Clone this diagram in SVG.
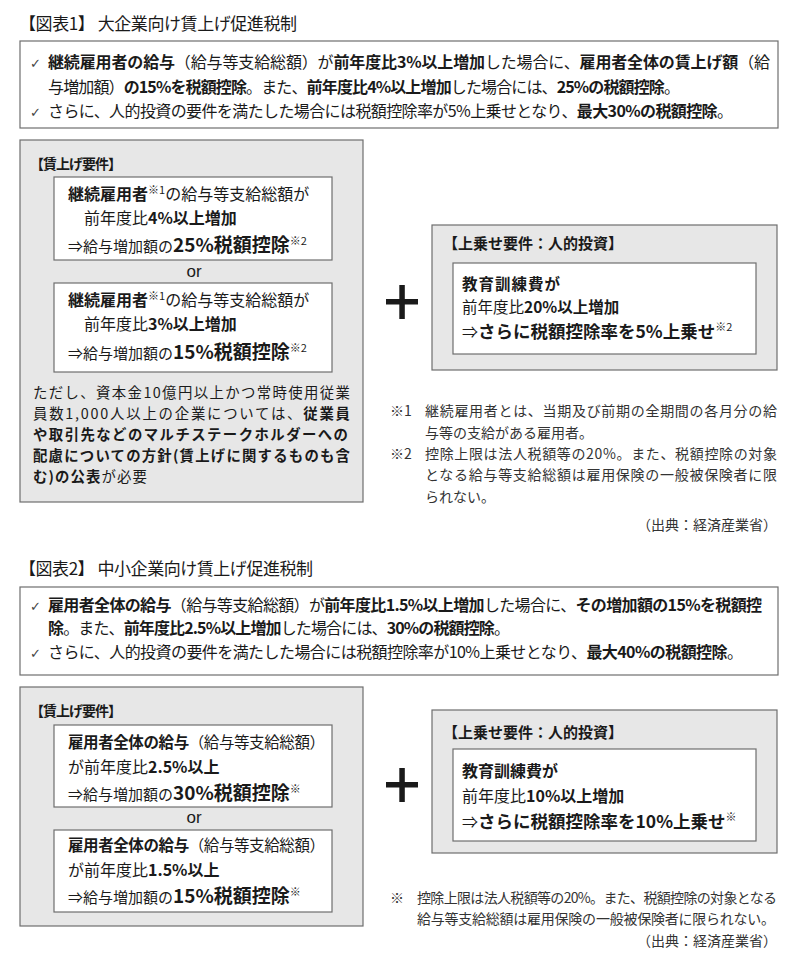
<svg xmlns="http://www.w3.org/2000/svg" width="800" height="976" viewBox="0 0 800 976">
<style>
.t{font-family:"Noto Sans CJK JP","Noto Sans",sans-serif;fill:#1a1a1a}
.b{font-weight:700}
.ck{font-family:"DejaVu Sans",sans-serif;fill:#444;font-size:13px}
.n{font-family:"Noto Sans CJK JP","Noto Sans",sans-serif;fill:#333;font-size:14px}
.box{fill:#fff;stroke:#6e6e6e;stroke-width:1.2}
.gray{fill:#e7e7e7;stroke:#6e6e6e;stroke-width:1.2}
.plus{fill:#1a1a1a}
.or{font-family:"Liberation Sans",sans-serif;font-size:17px;fill:#1a1a1a}
</style>
<rect width="800" height="976" fill="#fff"/>

<!-- ===== Figure 1 ===== -->
<g id="title1"><text class="t" x="19" y="30" font-size="17" textLength="278" lengthAdjust="spacing">【図表1】 大企業向け賃上げ促進税制</text></g>

<g id="summary1">
<rect class="box" x="20" y="41" width="758" height="87"/>
<text class="ck" x="30" y="68">✓</text>
<text class="t" x="48" y="68" font-size="16" textLength="722" lengthAdjust="spacing"><tspan class="b">継続雇用者の給与</tspan>（給与等支給総額）が<tspan class="b">前年度比3%以上増加</tspan>した場合に、<tspan class="b">雇用者全体の賃上げ額</tspan>（給</text>
<text class="t" x="48" y="93" font-size="16" textLength="632" lengthAdjust="spacing">与増加額）<tspan class="b">の15%を税額控除</tspan>。また、<tspan class="b">前年度比4%以上増加</tspan>した場合には、<tspan class="b">25%の税額控除</tspan>。</text>
<text class="ck" x="30" y="117">✓</text>
<text class="t" x="48" y="117" font-size="16" textLength="685" lengthAdjust="spacing">さらに、人的投資の要件を満たした場合には税額控除率が5%上乗せとなり、<tspan class="b">最大30%の税額控除</tspan>。</text>
</g>

<g id="wage-req1">
<rect class="gray" x="20" y="140" width="343" height="362"/>
<text class="t b" x="30" y="169" font-size="14" textLength="92" lengthAdjust="spacing">【賃上げ要件】</text>
</g>

<g id="req1-a">
<rect class="box" x="54" y="177" width="278" height="83"/>
<text class="t" x="68" y="200" font-size="16"><tspan class="b">継続雇用者</tspan><tspan font-size="11" dy="-6">※1</tspan><tspan dy="6">の給与等支給総額が</tspan></text>
<text class="t" x="84" y="224" font-size="16">前年度比<tspan class="b">4%以上増加</tspan></text>
<text class="t" x="68" y="252" font-size="15">⇒給与増加額の<tspan class="b" font-size="19">25%税額控除</tspan><tspan font-size="11" dy="-7">※2</tspan></text>
</g>

<g id="or1"><text class="or" x="194" y="277" text-anchor="middle">or</text></g>

<g id="req1-b">
<rect class="box" x="54" y="283" width="278" height="89"/>
<text class="t" x="68" y="306" font-size="16"><tspan class="b">継続雇用者</tspan><tspan font-size="11" dy="-6">※1</tspan><tspan dy="6">の給与等支給総額が</tspan></text>
<text class="t" x="84" y="330" font-size="16">前年度比<tspan class="b">3%以上増加</tspan></text>
<text class="t" x="68" y="359" font-size="15">⇒給与増加額の<tspan class="b" font-size="19">15%税額控除</tspan><tspan font-size="11" dy="-7">※2</tspan></text>
</g>

<g id="condition1">
<text class="t" x="33" y="398" font-size="14.4" textLength="317" lengthAdjust="spacing">ただし、資本金10億円以上かつ常時使用従業</text>
<text class="t" x="33" y="419" font-size="14.4" textLength="317" lengthAdjust="spacing">員数1,000人以上の企業については、<tspan class="b">従業員</tspan></text>
<text class="t b" x="33" y="440" font-size="14.4" textLength="315" lengthAdjust="spacing">や取引先などのマルチステークホルダーへの</text>
<text class="t b" x="33" y="461" font-size="14.4" textLength="317" lengthAdjust="spacing">配慮についての方針(賃上げに関するものも含</text>
<text class="t" x="33" y="482" font-size="14.4" textLength="114" lengthAdjust="spacing"><tspan class="b">む)の公表</tspan>が必要</text>
</g>

<g id="plus1">
<rect class="plus" x="386" y="299" width="32" height="5.5"/>
<rect class="plus" x="399.3" y="285" width="5.5" height="34"/>
</g>

<g id="bonus1">
<rect class="gray" x="432" y="225" width="345" height="145"/>
<text class="t b" x="443" y="249" font-size="15" textLength="180" lengthAdjust="spacing">【上乗せ要件：人的投資】</text>
<rect class="box" x="453" y="263" width="303" height="91"/>
<text class="t b" x="462" y="290" font-size="15.5" textLength="98" lengthAdjust="spacing">教育訓練費が</text>
<text class="t" x="462" y="313" font-size="15.5">前年度比<tspan class="b">20%以上増加</tspan></text>
<text class="t" x="462" y="338" font-size="16">⇒<tspan class="b" font-size="17.5">さらに税額控除率を5%上乗せ</tspan><tspan font-size="11" dy="-7">※2</tspan></text>
</g>

<g id="notes1">
<text class="n" x="390" y="416">※1</text>
<text class="n" x="425" y="416" textLength="352" lengthAdjust="spacing">継続雇用者とは、当期及び前期の全期間の各月分の給</text>
<text class="n" x="425" y="438">与等の支給がある雇用者。</text>
<text class="n" x="390" y="459">※2</text>
<text class="n" x="425" y="459" textLength="352" lengthAdjust="spacing">控除上限は法人税額等の20%。また、税額控除の対象</text>
<text class="n" x="425" y="480" textLength="352" lengthAdjust="spacing">となる給与等支給総額は雇用保険の一般被保険者に限</text>
<text class="n" x="425" y="502">られない。</text>
<text class="n" x="777" y="530" font-size="13" text-anchor="end">（出典：経済産業省）</text>
</g>

<!-- ===== Figure 2 ===== -->
<g id="title2"><text class="t" x="19" y="575" font-size="17" textLength="294" lengthAdjust="spacing">【図表2】 中小企業向け賃上げ促進税制</text></g>

<g id="summary2">
<rect class="box" x="20" y="587" width="758" height="88"/>
<text class="ck" x="30" y="611">✓</text>
<text class="t" x="48" y="611" font-size="16" textLength="714" lengthAdjust="spacing"><tspan class="b">雇用者全体の給与</tspan>（給与等支給総額）が<tspan class="b">前年度比1.5%以上増加</tspan>した場合に、<tspan class="b">その増加額の15%を税額控</tspan></text>
<text class="t" x="48" y="634" font-size="16" textLength="462" lengthAdjust="spacing"><tspan class="b">除</tspan>。また、<tspan class="b">前年度比2.5%以上増加</tspan>した場合には、<tspan class="b">30%の税額控除</tspan>。</text>
<text class="ck" x="30" y="658">✓</text>
<text class="t" x="48" y="658" font-size="16" textLength="695" lengthAdjust="spacing">さらに、人的投資の要件を満たした場合には税額控除率が10%上乗せとなり、<tspan class="b">最大40%の税額控除</tspan>。</text>
</g>

<g id="wage-req2">
<rect class="gray" x="20" y="687" width="343" height="239"/>
<text class="t b" x="30" y="716" font-size="14" textLength="92" lengthAdjust="spacing">【賃上げ要件】</text>
</g>

<g id="req2-a">
<rect class="box" x="54" y="725" width="278" height="82"/>
<text class="t" x="68" y="748" font-size="15.5" textLength="257" lengthAdjust="spacing"><tspan class="b">雇用者全体の給与</tspan>（給与等支給総額）</text>
<text class="t" x="68" y="773" font-size="16">が前年度比<tspan class="b">2.5%以上</tspan></text>
<text class="t" x="68" y="800" font-size="15">⇒給与増加額の<tspan class="b" font-size="19">30%税額控除</tspan><tspan font-size="11" dy="-7">※</tspan></text>
</g>

<g id="or2"><text class="or" x="194" y="823" text-anchor="middle">or</text></g>

<g id="req2-b">
<rect class="box" x="54" y="830" width="278" height="82"/>
<text class="t" x="68" y="851" font-size="15.5" textLength="257" lengthAdjust="spacing"><tspan class="b">雇用者全体の給与</tspan>（給与等支給総額）</text>
<text class="t" x="68" y="876" font-size="16">が前年度比<tspan class="b">1.5%以上</tspan></text>
<text class="t" x="68" y="903" font-size="15">⇒給与増加額の<tspan class="b" font-size="19">15%税額控除</tspan><tspan font-size="11" dy="-7">※</tspan></text>
</g>

<g id="plus2">
<rect class="plus" x="386" y="782" width="32" height="5.5"/>
<rect class="plus" x="399.3" y="768" width="5.5" height="34"/>
</g>

<g id="bonus2">
<rect class="gray" x="432" y="710" width="345" height="143"/>
<text class="t b" x="443" y="738" font-size="15" textLength="180" lengthAdjust="spacing">【上乗せ要件：人的投資】</text>
<rect class="box" x="453" y="749" width="303" height="92"/>
<text class="t b" x="462" y="777" font-size="16">教育訓練費が</text>
<text class="t" x="462" y="802" font-size="16">前年度比<tspan class="b">10%以上増加</tspan></text>
<text class="t" x="462" y="828" font-size="16">⇒<tspan class="b" font-size="17.5">さらに税額控除率を10%上乗せ</tspan><tspan font-size="11" dy="-7">※</tspan></text>
</g>

<g id="notes2">
<text class="n" x="390" y="903">※</text>
<text class="n" x="417" y="903" textLength="360" lengthAdjust="spacing">控除上限は法人税額等の20%。また、税額控除の対象となる</text>
<text class="n" x="417" y="924" textLength="358" lengthAdjust="spacing">給与等支給総額は雇用保険の一般被保険者に限られない。</text>
<text class="n" x="777" y="946" font-size="13" text-anchor="end">（出典：経済産業省）</text>
</g>
</svg>
